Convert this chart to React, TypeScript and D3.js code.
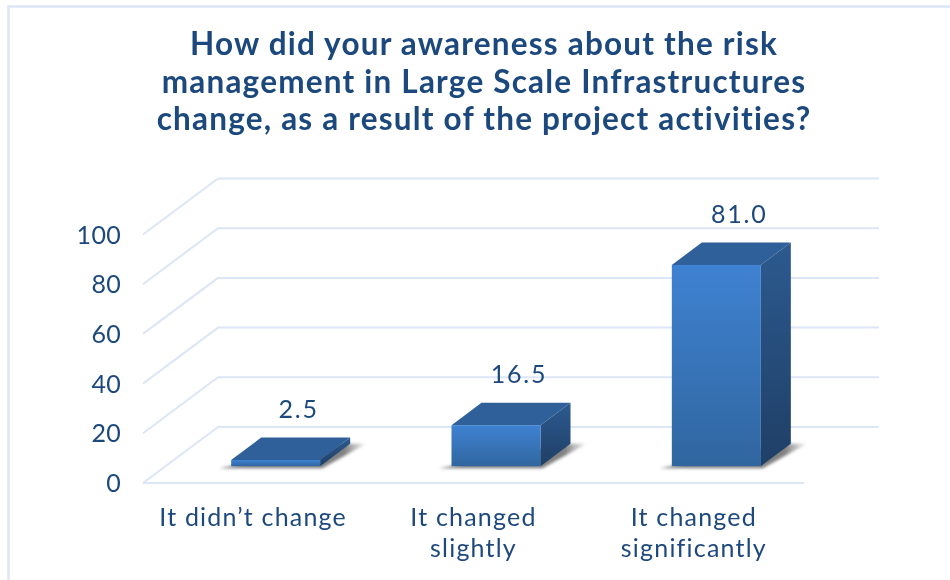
import React from "react";
import * as d3 from "d3";

const titleLines = [
  "How did your awareness about the risk",
  "management in Large Scale Infrastructures",
  "change, as a result of the project activities?",
];
const categoryNames = ["It didn\u2019t change", "It changed slightly", "It changed significantly"];
const categoryLines = [["It didn\u2019t change"], ["It changed", "slightly"], ["It changed", "significantly"]];
const values = [2.5, 16.5, 81.0];
const valueLabels = ["2.5", "16.5", "81.0"];
const yTicks = [0, 20, 40, 60, 80, 100];

const W = 950, H = 580;
const FONT = "Lato, 'Noto Sans', sans-serif";
const INK = "#1f497d";
const GRID = "#dce6f6";
const depthX = 75, depthY = -56;
const t0 = 0.3, t1 = 0.7;

const x = d3.scaleBand<string>().domain(categoryNames).range([143, 804]).paddingInner(0.596).paddingOuter(0.298);
const y = d3.scaleLinear().domain([0, 100]).range([483, 234.5]);

const pts = (p: [number, number][]) => p.map((a) => a.join(",")).join(" ");

export default function App() {
  const fl = x.range()[0], fr = x.range()[1];
  return (
    <svg width={W} height={H} viewBox={`0 0 ${W} ${H}`} style={{ position: "absolute", left: 0, top: 0, background: "#fff" }}>
      <defs>
        <linearGradient id="front" x1="0" y1="0" x2="0" y2="1">
          <stop offset="0" stopColor="#3f82d2" />
          <stop offset="1" stopColor="#30669f" />
        </linearGradient>
        <linearGradient id="side" x1="0" y1="0" x2="0" y2="1">
          <stop offset="0" stopColor="#2c5a8f" />
          <stop offset="1" stopColor="#1f3f66" />
        </linearGradient>
        <linearGradient id="shade" x1="0" y1="0" x2="1" y2="0">
          <stop offset="0" stopColor="#555" stopOpacity="0.75" />
          <stop offset="0.85" stopColor="#555" stopOpacity="0.75" />
          <stop offset="1" stopColor="#777" stopOpacity="0.1" />
        </linearGradient>
        <filter id="soft" x="-20%" y="-20%" width="140%" height="140%">
          <feGaussianBlur stdDeviation="1.8" />
        </filter>
        <filter id="txt" x="-5%" y="-20%" width="110%" height="140%">
          <feGaussianBlur stdDeviation="0.35" />
        </filter>
      </defs>

      <path d="M8.5 580V6.5H950" fill="none" stroke={GRID} strokeWidth={2.5} />

      {yTicks.map((t) => (
        <g key={t} fill="none" stroke={GRID} strokeWidth={2}>
          <line x1={fl} y1={y(t)} x2={fl + depthX} y2={y(t) + depthY} />
          <line x1={fl + depthX} y1={y(t) + depthY} x2={fr + depthX} y2={y(t) + depthY} />
        </g>
      ))}
      <line x1={fl} y1={y(0)} x2={fr} y2={y(0)} stroke={GRID} strokeWidth={2} />

      {categoryNames.map((c, i) => {
        const l = x(c)!, b = x.bandwidth(), v = values[i];
        const fx0 = l + depthX * t0, fx1 = fx0 + b;
        const bx = depthX * (t1 - t0), by = depthY * (t1 - t0);
        const base = y(0) + depthY * t0, top = y(v) + depthY * t0;
        return (
          <g key={c}>
            <polygon
              points={pts([
                [fx0 - 12, base + 2],
                [fx1 + 2, base + 2],
                [fx1 + bx + 16, base + by],
                [fx1 + bx - 4, base + by],
              ])}
              fill="url(#shade)"
              filter="url(#soft)"
            />
            <polygon points={pts([[fx0, top], [fx1, top], [fx1 + bx, top + by], [fx0 + bx, top + by]])} fill="#2f6099" />
            <polygon points={pts([[fx1, top], [fx1 + bx, top + by], [fx1 + bx, base + by], [fx1, base]])} fill="url(#side)" />
            <rect x={fx0} y={top} width={b} height={base - top} fill="url(#front)" />
            <text x={fx0 + b / 2 + bx / 2 + 8} y={top + by - 20} textAnchor="middle" fontSize={25} letterSpacing={1.8} fontFamily={FONT} fill={INK} filter="url(#txt)">
              {valueLabels[i]}
            </text>
          </g>
        );
      })}

      {yTicks.map((t) => (
        <text key={t} x={121} y={y(t) + 9} textAnchor="end" fontSize={25} letterSpacing={0.3} fontFamily={FONT} fill={INK} filter="url(#txt)">
          {t}
        </text>
      ))}

      {categoryNames.map((c, i) =>
        categoryLines[i].map((ln, j) => (
          <text key={ln + j} x={x(c)! + x.bandwidth() / 2} y={526 + j * 30.5} textAnchor="middle" fontSize={25} letterSpacing={1.2} fontFamily={FONT} fill={INK} filter="url(#txt)">
            {ln}
          </text>
        ))
      )}

      {titleLines.map((ln, i) => (
        <text key={i} x={484} y={55 + i * 37.5} textAnchor="middle" fontSize={31.5} fontWeight={700} letterSpacing={1.2} fontFamily={FONT} fill={INK} filter="url(#txt)">
          {ln}
        </text>
      ))}
    </svg>
  );
}
